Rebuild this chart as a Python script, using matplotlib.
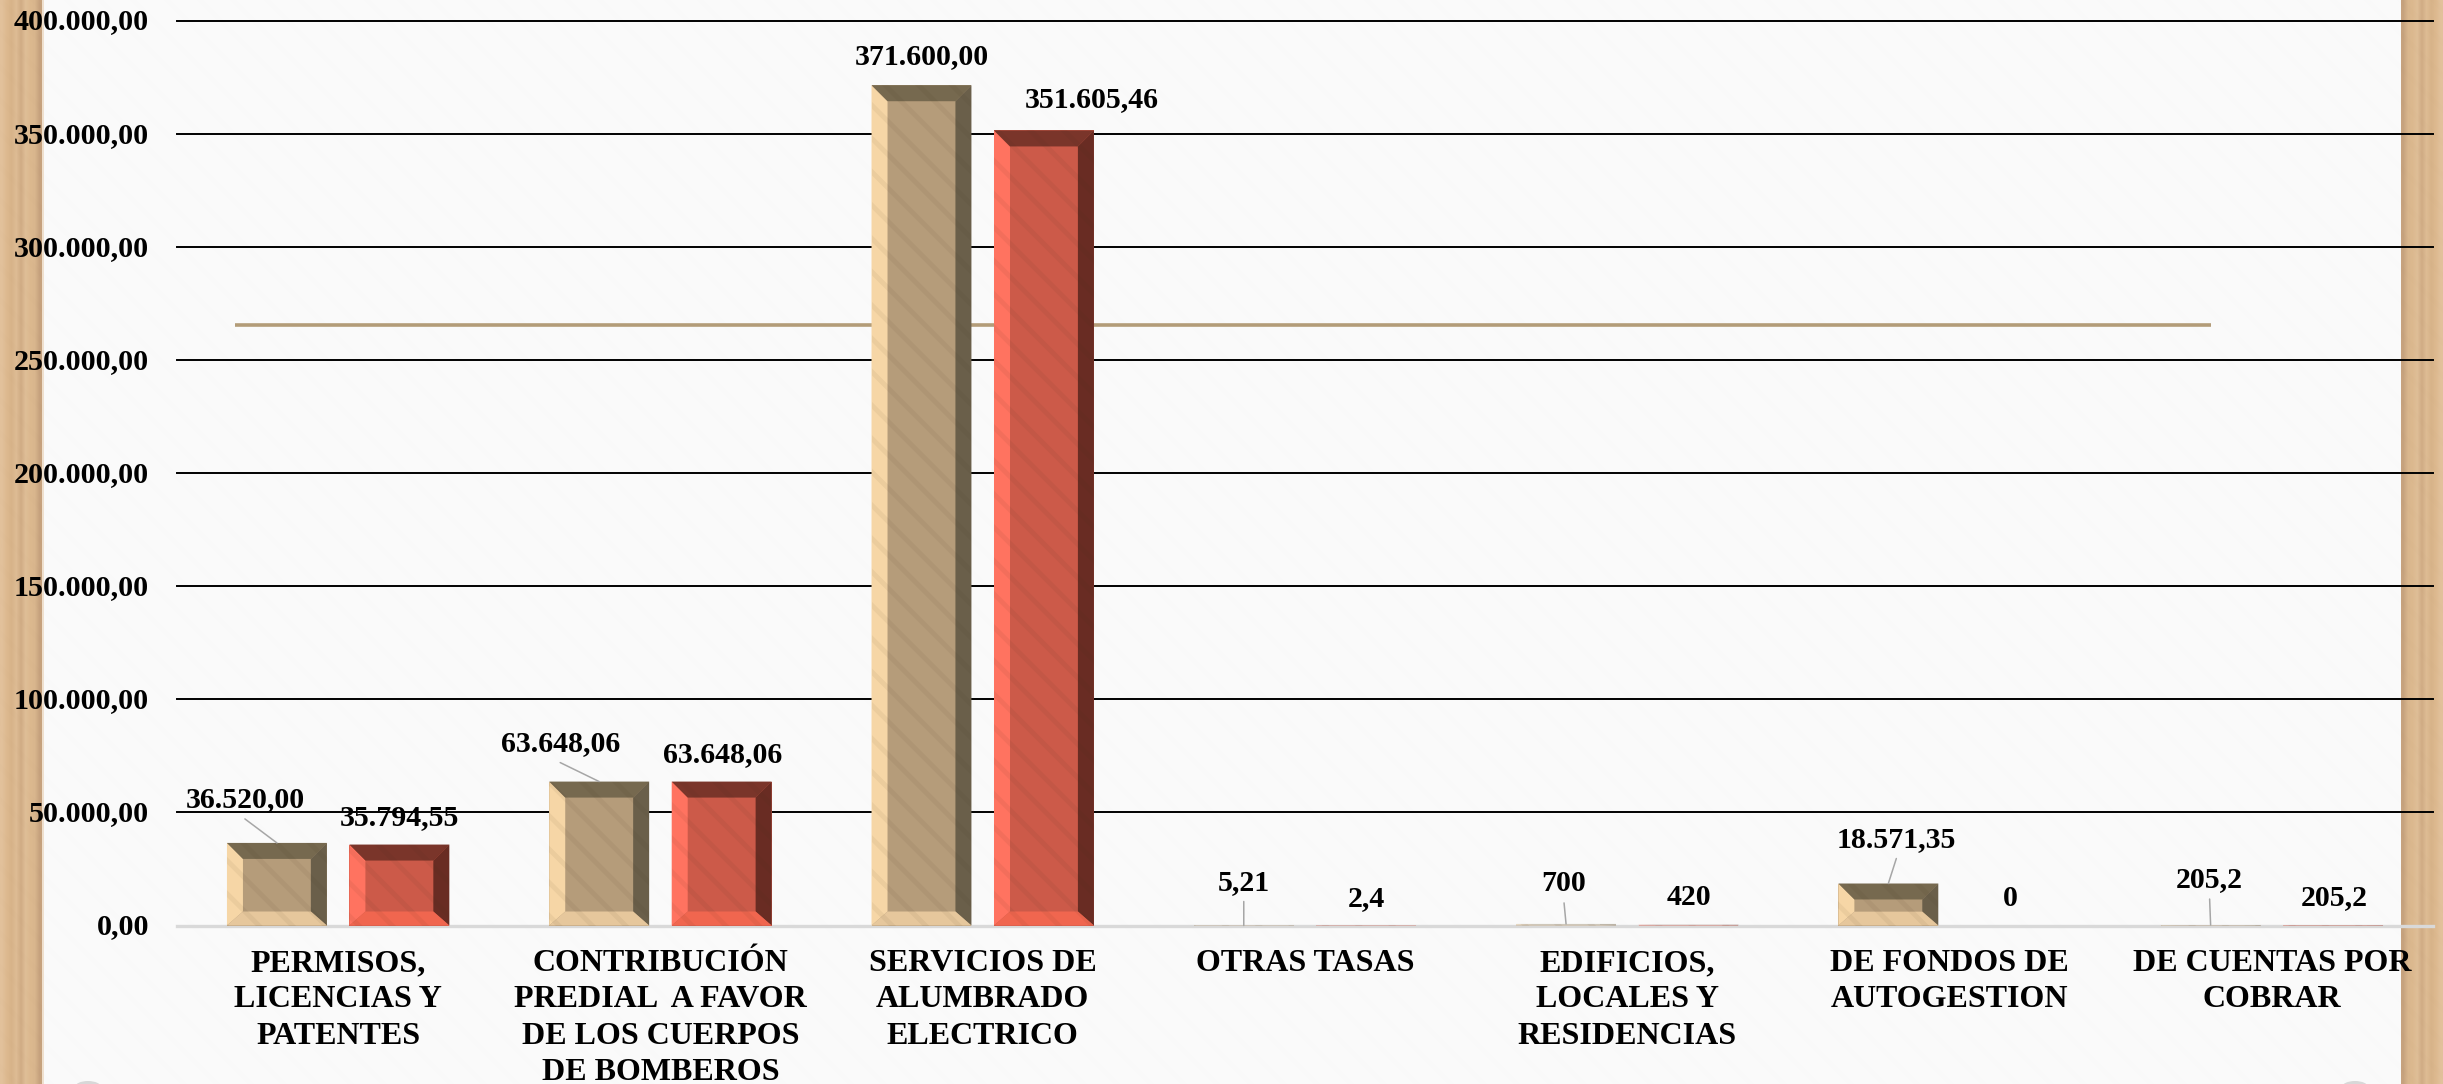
import numpy as np
import matplotlib
matplotlib.use("Agg")
import matplotlib.pyplot as plt
from matplotlib.colors import to_rgb
from matplotlib.patches import Rectangle, Polygon, Ellipse
from matplotlib.transforms import ScaledTranslation
import matplotlib.patheffects as pe

categories = ["PERMISOS,\nLICENCIAS Y\nPATENTES",
              "CONTRIBUCIÓN\nPREDIAL  A FAVOR\nDE LOS CUERPOS\nDE BOMBEROS",
              "SERVICIOS DE\nALUMBRADO\nELECTRICO",
              "OTRAS TASAS",
              "EDIFICIOS,\nLOCALES Y\nRESIDENCIAS",
              "DE FONDOS DE\nAUTOGESTION",
              "DE CUENTAS POR\nCOBRAR"]
series_a = [36520.00, 63648.06, 371600.00, 5.21, 700, 18571.35, 205.2]
series_b = [35794.55, 63648.06, 351605.46, 2.4, 420, 0, 205.2]
labels_a = ["36.520,00", "63.648,06", "371.600,00", "5,21", "700", "18.571,35", "205,2"]
labels_b = ["35.794,55", "63.648,06", "351.605,46", "2,4", "420", "0", "205,2"]
y_ticks = [0, 50000, 100000, 150000, 200000, 250000, 300000, 350000, 400000]
y_tick_labels = ["0,00", "50.000,00", "100.000,00", "150.000,00", "200.000,00",
                 "250.000,00", "300.000,00", "350.000,00", "400.000,00"]
line_value = 265500

# label offsets from the top of each bar, in pixels
offsets_a = [(-32, 45), (-39, 40), (0, 31), (0, 45), (-2, 42), (8, 46), (-1, 47)]
offsets_b = [(0, 29), (1, 29), (48, 33), (0, 29), (0, 29), (0, 29), (1, 29)]

# colours of each bar: face, left, top, right, bottom
tan = ["#B59C7A", "#F6D6A6", "#76694F", "#6A5F4A", "#E6C79C"]
red = ["#CC5A49", "#FF7360", "#7A352A", "#692C23", "#F0664F"]
wood = ["#E2C19B", "#DDB98F", "#D7B389", "#DEBC94", "#D0AC85", "#DFBE97",
        "#DCB98F", "#D9B68D", "#C6A27E"]

W, H = 2443, 1084
plt.rcParams["font.family"] = ["Liberation Serif", "DejaVu Serif"]
plt.rcParams["font.weight"] = "bold"
plt.rcParams["hatch.linewidth"] = 3.5

fig = plt.figure(figsize=(W / 100, H / 100), dpi=100, facecolor="#FAFAFA")

# paper and wood strips
bg = fig.add_axes([0, 0, 1, 1], zorder=0)
bg.set_xlim(0, W)
bg.set_ylim(H, 0)
bg.axis("off")
bg.add_patch(Rectangle((0, 0), W, H, facecolor="none", edgecolor=(0, 0, 0, 0.005),
                       hatch="\\", lw=0))
strip = np.array([[to_rgb(c) for c in wood]])
bg.imshow(strip, extent=(0, 42, H, 0), aspect="auto", interpolation="bilinear")
bg.imshow(strip[:, ::-1], extent=(2401, W, H, 0), aspect="auto", interpolation="bilinear")
bg.add_patch(Rectangle((42, 0), 2, H, facecolor="#EFE0CE", lw=0))
bg.add_patch(Ellipse((88, 1087), 26, 12, facecolor="#D8D8D8", lw=0))
bg.add_patch(Ellipse((2355, 1087), 26, 12, facecolor="#D8D8D8", lw=0))
bg.set_xlim(0, W)
bg.set_ylim(H, 0)

left, right, y_top, y_zero = 177, 2433, 21, 925.5
ax = fig.add_axes([left / W, (H - y_zero) / H, (right - left) / W, (y_zero - y_top) / H],
                  zorder=1)
ax.patch.set_alpha(0)
ax.set_xlim(0, len(categories))
ax.set_ylim(0, 400000)
for s in ax.spines.values():
    s.set_visible(False)

px_x = len(categories) / (right - left)
px_y = 400000 / (y_zero - y_top)
centers = np.arange(len(categories)) + 0.5
bar_w = 0.31
shift = 0.19


def bevel_bar(x, v, cols):
    x0, x1 = x - bar_w / 2, x + bar_w / 2
    # bars only a pixel or two high read as a faint smear on the baseline
    alpha = 0.3 if v < 4 * px_y else 1
    b = 16 * px_x
    top = min(16 * px_y, v * 0.38)
    bot = min(14 * px_y, v * 0.33)
    face = Rectangle((x0, 0), bar_w, v, facecolor=cols[0], lw=0, zorder=3, alpha=alpha)
    if alpha == 1:
        face.set_path_effects([pe.SimplePatchShadow(offset=(0, -2), alpha=0.35, shadow_rgbFace="#555555"),
                               pe.Normal()])
    ax.add_patch(face)
    ix0, ix1, iy0, iy1 = x0 + b, x1 - b, bot, v - top
    sides = [[(x0, 0), (ix0, iy0), (ix0, iy1), (x0, v)],
             [(x0, v), (ix0, iy1), (ix1, iy1), (x1, v)],
             [(x1, v), (ix1, iy1), (ix1, iy0), (x1, 0)],
             [(x0, 0), (x1, 0), (ix1, iy0), (ix0, iy0)]]
    for pts, c in zip(sides, cols[1:]):
        ax.add_patch(Polygon(pts, closed=True, facecolor=c, lw=0, zorder=3.1, alpha=alpha))
    ax.add_patch(Rectangle((x0, 0), bar_w, v, facecolor="none", edgecolor=(0.25, 0.18, 0.1, 0.06),
                           hatch="\\", lw=0, zorder=3.2))


def value_label(x, v, text, off):
    ax.annotate(text, xy=(x, v), xytext=(off[0], off[1] - 2), xycoords="data", textcoords="offset pixels",
                ha="center", va="center", fontsize=21.5, color="black", zorder=6)
    if off[1] >= 40:
        ax.annotate("", xy=(x, v), xytext=(off[0], off[1] - 21), xycoords="data",
                    textcoords="offset pixels", zorder=5,
                    arrowprops=dict(arrowstyle="-", color="#A6A6A6", lw=1.1, shrinkA=0, shrinkB=0))


ax.set_yticks(y_ticks, y_tick_labels, fontsize=21.7)
ax.set_xticks(centers, categories, fontsize=23, linespacing=1.33)
ax.tick_params(axis="both", length=0)
ax.tick_params(axis="y", pad=20)
ax.tick_params(axis="x", pad=17)
up = ScaledTranslation(0, 2 / 100, fig.dpi_scale_trans)
for lab in ax.get_yticklabels():
    lab.set_transform(lab.get_transform() + up)

for t in y_ticks[1:]:
    ax.axhline(t, color="black", lw=1.4, zorder=1, clip_on=False)
ax.axhline(0, color="#D9D9D9", lw=2.4, zorder=1.5, clip_on=False)
ax.plot([centers[0] - 0.32, centers[-1] - shift], [line_value, line_value],
        color="#B39C78", lw=2.6, solid_capstyle="butt", zorder=2)

for i, x in enumerate(centers):
    bevel_bar(x - shift, series_a[i], tan)
    bevel_bar(x + shift, series_b[i], red)
    value_label(x - shift, series_a[i], labels_a[i], offsets_a[i])
    value_label(x + shift, series_b[i], labels_b[i], offsets_b[i])

fig.savefig("out.png", dpi=100, facecolor=fig.get_facecolor())
